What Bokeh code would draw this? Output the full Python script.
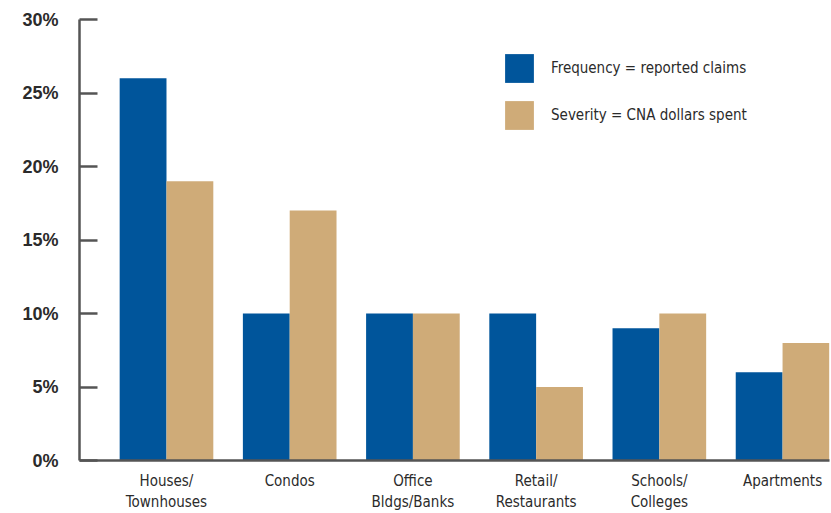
from bokeh.plotting import figure
from bokeh.models import FixedTicker, Range1d, ColumnDataSource, Legend, LegendItem
from bokeh.transform import dodge
from bokeh.embed import file_html
from bokeh.resources import INLINE

categories = ["Houses/\nTownhouses", "Condos", "Office\nBldgs/Banks", "Retail/\nRestaurants", "Schools/\nColleges", "Apartments"]
frequency = [26, 10, 10, 10, 9, 6]
severity = [19, 17, 10, 5, 10, 8]
y_ticks = [0, 5, 10, 15, 20, 25, 30]
y_tick_labels = ["0%", "5%", "10%", "15%", "20%", "25%", "30%"]
series_names = ["Frequency = reported claims", "Severity = CNA dollars spent"]

BLUE = "#00559B"
TAN = "#CFAB78"
TEXT = "#2b2b2b"
AXIS = "#555555"
LABEL_FONT = "DejaVu Sans Condensed"

idx = list(range(len(categories)))
src = ColumnDataSource(dict(x=idx, freq=frequency, sev=severity,
                            base=[0] * len(idx), label=categories))

p = figure(width=831, height=513, output_backend="svg", toolbar_location=None,
           x_range=Range1d(-0.706, 5.381), y_range=Range1d(0, 30),
           min_border_left=79, min_border_right=2, min_border_top=19, min_border_bottom=53)
p.outline_line_color = None
p.grid.visible = False
p.background_fill_color = "white"

r1 = p.vbar(x=dodge("x", -0.19), top="freq", width=0.38, source=src, fill_color=BLUE, line_color=None)
r2 = p.vbar(x=dodge("x", 0.19), top="sev", width=0.38, source=src, fill_color=TAN, line_color=None)

# category labels under the axis (drawn through the x scale)
p.text(x="x", y="base", text="label", source=src, level="overlay",
       y_offset=11, text_align="center", text_baseline="top",
       text_font={"value": LABEL_FONT}, text_font_size={"value": "15px"},
       text_color=TEXT, text_line_height=1.2)

# y axis
ya = p.yaxis[0]
ya.ticker = FixedTicker(ticks=y_ticks)
ya.major_label_overrides = {t: l for t, l in zip(y_ticks, y_tick_labels)}
ya.major_tick_in = 18
ya.major_tick_out = 0
ya.minor_tick_line_color = None
ya.axis_line_color = AXIS
ya.axis_line_width = 2.5
ya.major_tick_line_color = AXIS
ya.major_tick_line_width = 2.5
ya.major_label_standoff = 21
ya.major_label_text_font = "Liberation Sans"
ya.major_label_text_font_style = "bold"
ya.major_label_text_font_size = "18px"
ya.major_label_text_color = TEXT

# x axis (line only)
xa = p.xaxis[0]
xa.ticker = FixedTicker(ticks=[])
xa.major_tick_in = 0
xa.major_tick_out = 0
xa.minor_tick_line_color = None
xa.axis_line_color = AXIS
xa.axis_line_width = 2.5
xa.major_label_text_font_size = "0px"

legend = Legend(items=[LegendItem(label=series_names[0], renderers=[r1]),
                       LegendItem(label=series_names[1], renderers=[r2])],
                location=(422, 327), orientation="vertical",
                glyph_width=36, glyph_height=36, label_standoff=14, spacing=11,
                padding=0, margin=0, border_line_color=None, background_fill_alpha=0,
                label_text_font=LABEL_FONT, label_text_font_size="15px",
                label_text_color=TEXT, label_height=36)
p.add_layout(legend)

open("out.html", "w").write(file_html(p, INLINE))
